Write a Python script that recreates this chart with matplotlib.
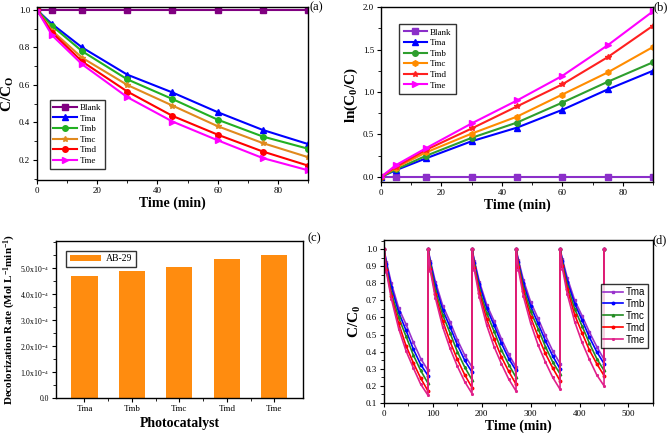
import numpy as np
import matplotlib
matplotlib.use('Agg')
import matplotlib.pyplot as plt
from matplotlib.ticker import MultipleLocator

plt.rcParams['font.family'] = ['Liberation Serif', 'DejaVu Serif']
plt.rcParams['mathtext.fontset'] = 'custom'
plt.rcParams['mathtext.rm'] = 'Liberation Serif'
plt.rcParams['mathtext.bf'] = 'Liberation Serif:bold'
plt.rcParams['mathtext.it'] = 'Liberation Serif:italic'

# ---- data ----
time = [0, 5, 15, 30, 45, 60, 75, 90]
samples = ['Tma', 'Tmb', 'Tmc', 'Tmd', 'Tme']

# (a) C/C0
blank_c = [1.0, 1.0, 1.0, 1.0, 1.0, 1.0, 1.0, 1.0]
tma_c = [1.0, 0.925, 0.80, 0.655, 0.56, 0.455, 0.36, 0.285]
tmb_c = [1.0, 0.915, 0.78, 0.63, 0.525, 0.415, 0.325, 0.26]
tmc_c = [1.0, 0.89, 0.745, 0.60, 0.49, 0.38, 0.29, 0.215]
tmd_c = [1.0, 0.88, 0.725, 0.565, 0.435, 0.335, 0.245, 0.17]
tme_c = [1.0, 0.865, 0.71, 0.535, 0.405, 0.305, 0.21, 0.145]

# (b) ln(C0/C)
blank_ln = [0, 0, 0, 0, 0, 0, 0, 0]
tma_ln = [0, 0.08, 0.22, 0.42, 0.58, 0.79, 1.03, 1.25]
tmb_ln = [0, 0.09, 0.25, 0.46, 0.64, 0.875, 1.12, 1.35]
tmc_ln = [0, 0.11, 0.29, 0.51, 0.71, 0.97, 1.23, 1.53]
tmd_ln = [0, 0.12, 0.32, 0.57, 0.83, 1.09, 1.41, 1.78]
tme_ln = [0, 0.14, 0.34, 0.63, 0.90, 1.19, 1.55, 1.95]

# (c) decolorization rate
rates = [4.71e-4, 4.88e-4, 5.06e-4, 5.37e-4, 5.51e-4]
rate_ticks = [0, 1e-4, 2e-4, 3e-4, 4e-4, 5e-4]
rate_labels = ['0.0', '1.0x10$^{-4}$', '2.0x10$^{-4}$', '3.0x10$^{-4}$',
               '4.0x10$^{-4}$', '5.0x10$^{-4}$']

# (d) reuse cycles, 5 runs of 90 min each
cycle_offsets = [0, 90, 180, 270, 360]
reuse = {
    'Tma': [[1.0, 0.925, 0.80, 0.655, 0.56, 0.455, 0.36, 0.29],
            [1.0, 0.93, 0.81, 0.67, 0.575, 0.47, 0.38, 0.31],
            [1.0, 0.93, 0.81, 0.675, 0.58, 0.475, 0.385, 0.31],
            [1.0, 0.935, 0.82, 0.69, 0.595, 0.495, 0.405, 0.33],
            [1.0, 0.94, 0.83, 0.70, 0.61, 0.515, 0.43, 0.355]],
    'Tmb': [[1.0, 0.915, 0.78, 0.63, 0.525, 0.415, 0.325, 0.26],
            [1.0, 0.92, 0.79, 0.645, 0.545, 0.44, 0.35, 0.28],
            [1.0, 0.92, 0.795, 0.655, 0.555, 0.45, 0.36, 0.29],
            [1.0, 0.925, 0.80, 0.665, 0.565, 0.465, 0.375, 0.30],
            [1.0, 0.93, 0.81, 0.68, 0.585, 0.485, 0.40, 0.33]],
    'Tmc': [[1.0, 0.89, 0.745, 0.60, 0.49, 0.38, 0.29, 0.215],
            [1.0, 0.90, 0.76, 0.615, 0.51, 0.40, 0.31, 0.235],
            [1.0, 0.905, 0.765, 0.625, 0.52, 0.41, 0.325, 0.25],
            [1.0, 0.91, 0.775, 0.635, 0.535, 0.43, 0.34, 0.27],
            [1.0, 0.915, 0.785, 0.65, 0.55, 0.45, 0.36, 0.29]],
    'Tmd': [[1.0, 0.88, 0.725, 0.565, 0.435, 0.335, 0.245, 0.17],
            [1.0, 0.885, 0.735, 0.58, 0.46, 0.355, 0.265, 0.19],
            [1.0, 0.89, 0.745, 0.59, 0.475, 0.37, 0.285, 0.21],
            [1.0, 0.895, 0.755, 0.60, 0.49, 0.39, 0.305, 0.23],
            [1.0, 0.90, 0.765, 0.615, 0.51, 0.41, 0.33, 0.26]],
    'Tme': [[1.0, 0.865, 0.71, 0.535, 0.405, 0.305, 0.21, 0.145],
            [1.0, 0.87, 0.715, 0.545, 0.42, 0.315, 0.225, 0.155],
            [1.0, 0.875, 0.72, 0.555, 0.43, 0.33, 0.24, 0.17],
            [1.0, 0.88, 0.725, 0.565, 0.44, 0.34, 0.25, 0.18],
            [1.0, 0.885, 0.735, 0.575, 0.455, 0.355, 0.265, 0.20]],
}
last_time = 450
last_value = 1.0

fig = plt.figure(figsize=(6.69, 4.33), dpi=100)
ax_a = fig.add_axes([0.0553, 0.5843, 0.405, 0.3995])
ax_b = fig.add_axes([0.5695, 0.5797, 0.4066, 0.404])
ax_c = fig.add_axes([0.0837, 0.0808, 0.369, 0.3626])
ax_d = fig.add_axes([0.574, 0.0693, 0.402, 0.3764])

for ax in [ax_a, ax_b, ax_c, ax_d]:
    ax.tick_params(direction='out', labelsize=6.5, length=3, width=0.8,
                   pad=2, top=False, right=False)
    ax.tick_params(which='minor', direction='out', length=2, width=0.6)
    for s in ax.spines.values():
        s.set_linewidth(1.0)

# ---- (a) ----
a_series = [('Blank', blank_c, '#800080', 's'),
            ('Tma', tma_c, '#0000FF', '^'),
            ('Tmb', tmb_c, '#22B022', 'o'),
            ('Tmc', tmc_c, '#E08A1E', '*'),
            ('Tmd', tmd_c, '#FF0000', 'o'),
            ('Tme', tme_c, '#FF00FF', '>')]
for name, vals, col, mk in a_series:
    ax_a.plot(time, vals, color=col, marker=mk, markersize=4, lw=1.5, label=name)
ax_a.set_xlim(0, 90)
ax_a.set_ylim(0.093, 1.016)
ax_a.xaxis.set_major_locator(MultipleLocator(20))
ax_a.xaxis.set_minor_locator(MultipleLocator(10))
ax_a.yaxis.set_major_locator(MultipleLocator(0.2))
ax_a.yaxis.set_minor_locator(MultipleLocator(0.1))
ax_a.set_xlabel('Time (min)', fontsize=10, fontweight='bold', labelpad=1)
ax_a.set_ylabel('C/C$_\\mathbf{O}$', fontsize=11, fontweight='bold', labelpad=2)
ax_a.legend(loc='lower left', bbox_to_anchor=(0.03, 0.04), fontsize=6.5,
            frameon=True, fancybox=False, edgecolor='black', handlelength=2.6,
            labelspacing=0.25, borderpad=0.4, handletextpad=0.3)
ax_a.text(1.005, 1.0, '(a)', transform=ax_a.transAxes, fontsize=9,
          va='center', ha='left')

# ---- (b) ----
b_series = [('Blank', blank_ln, '#8B2FC9', 's'),
            ('Tma', tma_ln, '#0000FF', '^'),
            ('Tmb', tmb_ln, '#2E9E2E', 'o'),
            ('Tmc', tmc_ln, '#FF8C00', 'h'),
            ('Tmd', tmd_ln, '#FF2020', '*'),
            ('Tme', tme_ln, '#FF00FF', '>')]
for name, vals, col, mk in b_series:
    ax_b.plot(time, vals, color=col, marker=mk, markersize=4, lw=1.5, label=name)
ax_b.set_xlim(0, 90)
ax_b.set_ylim(-0.06, 2.0)
ax_b.xaxis.set_major_locator(MultipleLocator(20))
ax_b.xaxis.set_minor_locator(MultipleLocator(10))
ax_b.yaxis.set_major_locator(MultipleLocator(0.5))
ax_b.yaxis.set_minor_locator(MultipleLocator(0.25))
ax_b.set_xlabel('Time (min)', fontsize=10, fontweight='bold', labelpad=1)
ax_b.set_ylabel('ln(C$_\\mathbf{0}$/C)', fontsize=11, fontweight='bold', labelpad=2)
ax_b.legend(loc='upper left', bbox_to_anchor=(0.05, 0.93), fontsize=6.5,
            frameon=True, fancybox=False, edgecolor='black', handlelength=2.6,
            labelspacing=0.25, borderpad=0.5, handletextpad=0.3)
ax_b.text(1.0, 1.0, '(b)', transform=ax_b.transAxes, fontsize=9,
          va='center', ha='left')

# ---- (c) ----
x = np.arange(len(samples))
ax_c.bar(x, rates, 0.55, color='#FF8C0F', label='AB-29')
ax_c.set_xlim(-0.6, 4.6)
ax_c.set_ylim(0, 6.05e-4)
ax_c.set_xticks(x)
ax_c.set_xticklabels(samples)
ax_c.set_xticks(x[:-1] + 0.5, minor=True)
ax_c.set_yticks(rate_ticks)
ax_c.set_yticklabels(rate_labels, fontsize=5.5)
ax_c.yaxis.set_minor_locator(MultipleLocator(0.5e-4))
ax_c.set_xlabel('Photocatalyst', fontsize=10, fontweight='bold', labelpad=3)
ax_c.set_ylabel('Decolorization Rate (Mol L$^\\mathbf{-1}$min$^\\mathbf{-1}$)',
                fontsize=8, fontweight='bold', labelpad=2)
ax_c.legend(loc='upper left', bbox_to_anchor=(0.02, 0.97), fontsize=7,
            frameon=True, fancybox=False, edgecolor='black', handlelength=3.2,
            borderpad=0.4, handletextpad=0.5)
ax_c.text(1.02, 1.02, '(c)', transform=ax_c.transAxes, fontsize=9,
          va='center', ha='left')

# ---- (d) ----
d_colors = {'Tma': '#9932CC', 'Tmb': '#0000FF', 'Tmc': '#228B22',
            'Tmd': '#FF0000', 'Tme': '#E0218A'}
d_markers = {'Tma': 's', 'Tmb': 'o', 'Tmc': '^', 'Tmd': 'o', 'Tme': '*'}
for name in samples:
    tt, vv = [], []
    for off, cyc in zip(cycle_offsets, reuse[name]):
        tt += [off + t for t in time]
        vv += cyc
    tt.append(last_time)
    vv.append(last_value)
    ax_d.plot(tt, vv, color=d_colors[name], marker=d_markers[name],
              markersize=1.8, lw=1.2, label=name)
ax_d.set_xlim(0, 550)
ax_d.set_ylim(0.1, 1.053)
ax_d.xaxis.set_major_locator(MultipleLocator(100))
ax_d.xaxis.set_minor_locator(MultipleLocator(50))
ax_d.yaxis.set_major_locator(MultipleLocator(0.1))
ax_d.yaxis.set_minor_locator(MultipleLocator(0.05))
ax_d.set_xlabel('Time (min)', fontsize=10, fontweight='bold', labelpad=1)
ax_d.set_ylabel('C/C$_\\mathbf{0}$', fontsize=11, fontweight='bold', labelpad=2)
ax_d.legend(loc='upper right', bbox_to_anchor=(1.0, 0.76),
            prop={'family': 'Liberation Sans', 'size': 7},
            frameon=True, fancybox=False, edgecolor='black', handlelength=2.0,
            labelspacing=0.2, borderpad=0.3, handletextpad=0.3)
ax_d.text(1.0, 1.0, '(d)', transform=ax_d.transAxes, fontsize=9,
          va='center', ha='left')

fig.savefig('out.png', dpi=100)
